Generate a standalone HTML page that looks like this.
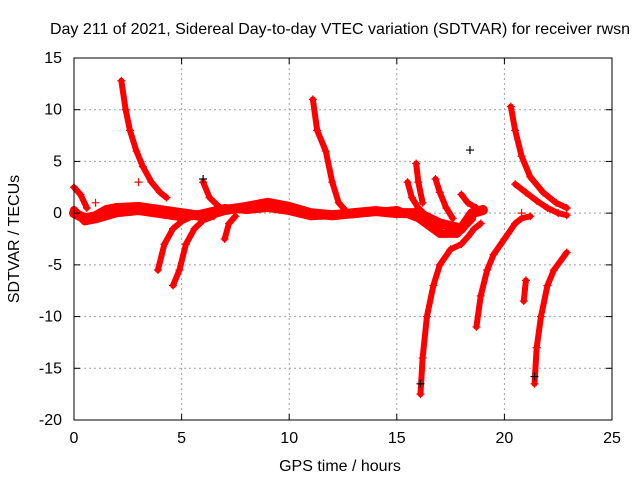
<!DOCTYPE html>
<html><head><meta charset="utf-8"><style>
body{margin:0;background:#fff}
svg text{font-family:"Liberation Sans",sans-serif;font-size:16px;fill:#000}
</style></head><body>
<svg id="chart" width="640" height="480" xmlns="http://www.w3.org/2000/svg">
<rect width="640" height="480" fill="#fff"/>
<text x="340" y="34" text-anchor="middle">Day 211 of 2021, Sidereal Day-to-day VTEC variation (SDTVAR) for receiver rwsn</text>
<g id="grid"></g>
<g id="data"></g>
<rect x="74" y="58" width="538" height="362" fill="none" stroke="#000" stroke-width="1"/>
<g id="ticks"></g>
<text x="340" y="471" text-anchor="middle">GPS time / hours</text>
<text x="19" y="239" text-anchor="middle" transform="rotate(-90 19 239)">SDTVAR / TECUs</text>
</svg>
<script>
const xTicks=[0,5,10,15,20,25];
const yTicks=[-20,-15,-10,-5,0,5,10,15];
const band=[[0,0],[0.5,-0.5],[1,-0.3],[1.5,0.3],[2,0.5],[3,0.6],[4,0.3],[5,0],[6,-0.3],[7,0.3],[8,0.6],[9,1],[10,0.6],[11,0],[12,-0.2],[13,0],[14,0.2],[15,0],[16,0],[17,-1],[18,-1.5],[18.5,0],[19,0.3]];
const band2=[[0,0.3],[0.5,-0.8],[1,-0.6],[2,0],[3,0.2],[4,-0.1],[5,-0.4],[6,0],[7,0.5],[8,0.3],[9,0.5],[10,0.2],[11,-0.3],[13,-0.1],[15,0.3],[16,-0.5],[17,-2],[17.8,-2],[18.5,-0.5]];
const tracks=[
[[2.2,12.8],[2.4,10],[2.6,8],[2.9,6],[3.2,4.5],[3.6,3],[4.0,2],[4.3,1.5]],
[[0,2.5],[0.3,1.8],[0.6,0.5]],
[[3.9,-5.5],[4.2,-3],[4.6,-1.5],[5,-0.8],[5.5,-0.3]],
[[4.6,-7],[4.9,-5.5],[5.2,-3],[5.6,-1.5],[6,-0.7],[6.5,-0.3]],
[[6,3],[6.3,1.5],[6.8,0.5]],
[[7,-2.5],[7.2,-1],[7.5,-0.3]],
[[11.1,11],[11.3,8],[11.7,6],[12,3],[12.3,1],[12.6,0.3]],
[[15.5,3],[15.7,1.5],[16,0.5],[16.5,-0.5],[17,-1.5]],
[[15.9,4.8],[16.0,3],[16.2,1]],
[[16.8,3.3],[17,2],[17.3,0.5],[17.6,-0.5]],
[[18,1.8],[18.3,1],[18.7,0.5]],
[[16.1,-17.5],[16.2,-14],[16.4,-10],[16.7,-7],[17,-5],[17.5,-3.5],[18,-3],[18.3,-2.3],[18.6,-1.5],[18.9,-1]],
[[18.7,-11],[18.9,-8],[19.2,-5.5],[19.5,-4],[20,-2.5],[20.5,-1],[20.8,-0.5],[21.2,-0.3]],
[[20.3,10.3],[20.5,8],[20.8,5.5],[21.2,3.5],[21.8,2],[22.4,1],[22.9,0.5]],
[[20.5,2.8],[21,2],[21.5,1.2],[22,0.5],[22.5,0],[22.9,-0.2]],
[[21.4,-16.5],[21.5,-13],[21.7,-10],[22,-7],[22.3,-5.5],[22.9,-3.8]],
[[20.9,-8.5],[21,-6.5]]
];
const singles=[[3,3],[20.8,0],[1,1]];
const blackPoints=[[18.4,6.1],[6,3.3],[16.1,-16.5],[21.4,-15.8]];
const NS="http://www.w3.org/2000/svg";
const X=t=>74+t*538/25, Y=v=>58+(15-v)*362/35;
function mk(tag,attrs,parent){const e=document.createElementNS(NS,tag);for(const k in attrs)e.setAttribute(k,attrs[k]);parent.appendChild(e);return e;}
const g=document.getElementById('grid'),tk=document.getElementById('ticks'),d=document.getElementById('data');
xTicks.forEach(t=>{
 if(t>0&&t<25){const l=mk('line',{x1:X(t),x2:X(t),y1:58,y2:420,stroke:'#a0a0a0','stroke-dasharray':'2,3'},g);
 }
 const m=mk('line',{x1:X(t),x2:X(t),y1:420,y2:414,stroke:'#000'},tk);
 
 const m2=mk('line',{x1:X(t),x2:X(t),y1:58,y2:64,stroke:'#000'},tk);
 
 const tx=mk('text',{x:X(t),y:443,'text-anchor':'middle'},tk);tx.textContent=t;
 
});
yTicks.forEach(v=>{
 if(v>-20&&v<15){const l=mk('line',{x1:74,x2:612,y1:Y(v),y2:Y(v),stroke:'#a0a0a0','stroke-dasharray':'2,3'},g);
 }
 const m=mk('line',{x1:74,x2:80,y1:Y(v),y2:Y(v),stroke:'#000'},tk);
 
 const m2=mk('line',{x1:606,x2:612,y1:Y(v),y2:Y(v),stroke:'#000'},tk);
 
 const tx=mk('text',{x:62,y:Y(v)+5,'text-anchor':'end'},tk);tx.textContent=v;
 
});
function plus(t,v,col){const p=mk('path',{d:`M${X(t)-4},${Y(v)}h8M${X(t)},${Y(v)-4}v8`,stroke:col,'stroke-width':1.2,fill:'none'},d);
 }
function track(pts,w){const pl=mk('polyline',{points:pts.map(p=>X(p[0])+','+Y(p[1])).join(' '),fill:'none',stroke:'#ff0000','stroke-width':w,'stroke-linecap':'round','stroke-linejoin':'round'},d);
 
 pts.forEach(p=>plus(p[0],p[1],'#ff0000'));}
track(band,10);
track(band2,8);
tracks.forEach(t=>track(t,6));
singles.forEach(p=>plus(p[0],p[1],'#ff0000'));
blackPoints.forEach(p=>plus(p[0],p[1],'#000'));
</script>
</body></html>
